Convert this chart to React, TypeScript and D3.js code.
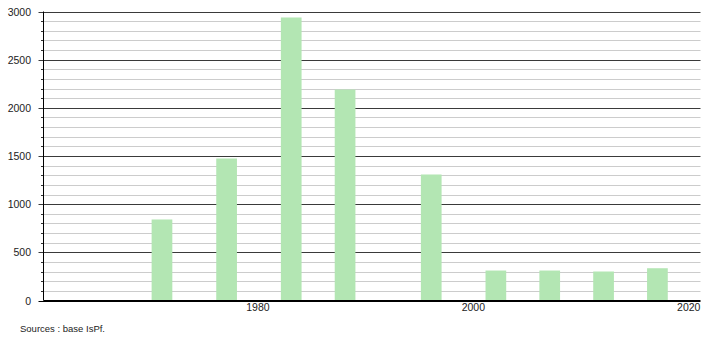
import React from "react";
import * as d3 from "d3";

const years = [1971, 1977, 1983, 1988, 1996, 2002, 2007, 2012, 2017];
const values = [841, 1474, 2938, 2190, 1308, 311, 311, 301, 335];
const xTicks = [1980, 2000, 2020];
const yMajor = [0, 500, 1000, 1500, 2000, 2500, 3000];
const sourceText = "Sources : base IsPf.";

const W = 710;
const H = 340;
const left = 43.5;
const right = 700.5;
const top = 11.5;
const bottom = 300.5;

export default function App() {
  const x = d3.scaleLinear().domain([1960, 2021]).range([left, right]);
  const y = d3.scaleLinear().domain([0, 3000]).range([bottom, top]);
  const minor = d3.range(0, 3001, 100).filter((v) => v % 500 !== 0);
  const barW = 20.7;
  const font = "'Liberation Sans', Arial, sans-serif";
  return (
    <svg
      width={W}
      height={H}
      style={{ position: "absolute", left: 0, top: 0, background: "#fff" }}
      fontFamily={font}
    >
      {minor.map((v) => (
        <g key={"m" + v}>
          <line x1={left} x2={right} y1={Math.round(y(v)) + 0.5} y2={Math.round(y(v)) + 0.5} stroke="#cccccc" strokeWidth={1} />
          <line x1={left - 2.5} x2={left} y1={Math.round(y(v)) + 0.5} y2={Math.round(y(v)) + 0.5} stroke="#333" strokeWidth={1} />
        </g>
      ))}
      {yMajor.map((v) => (
        <g key={"M" + v}>
          <line x1={left - 5} x2={right} y1={Math.round(y(v)) + 0.5} y2={Math.round(y(v)) + 0.5} stroke={v === 0 ? "#000" : "#3a3a3a"} strokeWidth={1} />
          <text x={31} y={y(v) + 4} fontSize={10.5} textAnchor="end" fill="#222">
            {v}
          </text>
        </g>
      ))}
      {years.map((yr, i) => (
        <rect
          key={yr}
          x={x(yr) - barW / 2}
          y={y(values[i])}
          width={barW}
          height={y(0) - y(values[i])}
          fill="#b3e6b3"
        />
      ))}
      <line x1={left} x2={left} y1={top} y2={bottom} stroke="#000" strokeWidth={1} />
      <line x1={left} x2={right} y1={bottom} y2={bottom} stroke="#000" strokeWidth={1} />
      {xTicks.map((t) => (
        <text key={t} x={x(t) - 1} y={311} fontSize={10.5} textAnchor="middle" fill="#222">
          {t}
        </text>
      ))}
      <text x={20} y={332} fontSize={9.5} fill="#222">
        {sourceText}
      </text>
    </svg>
  );
}
